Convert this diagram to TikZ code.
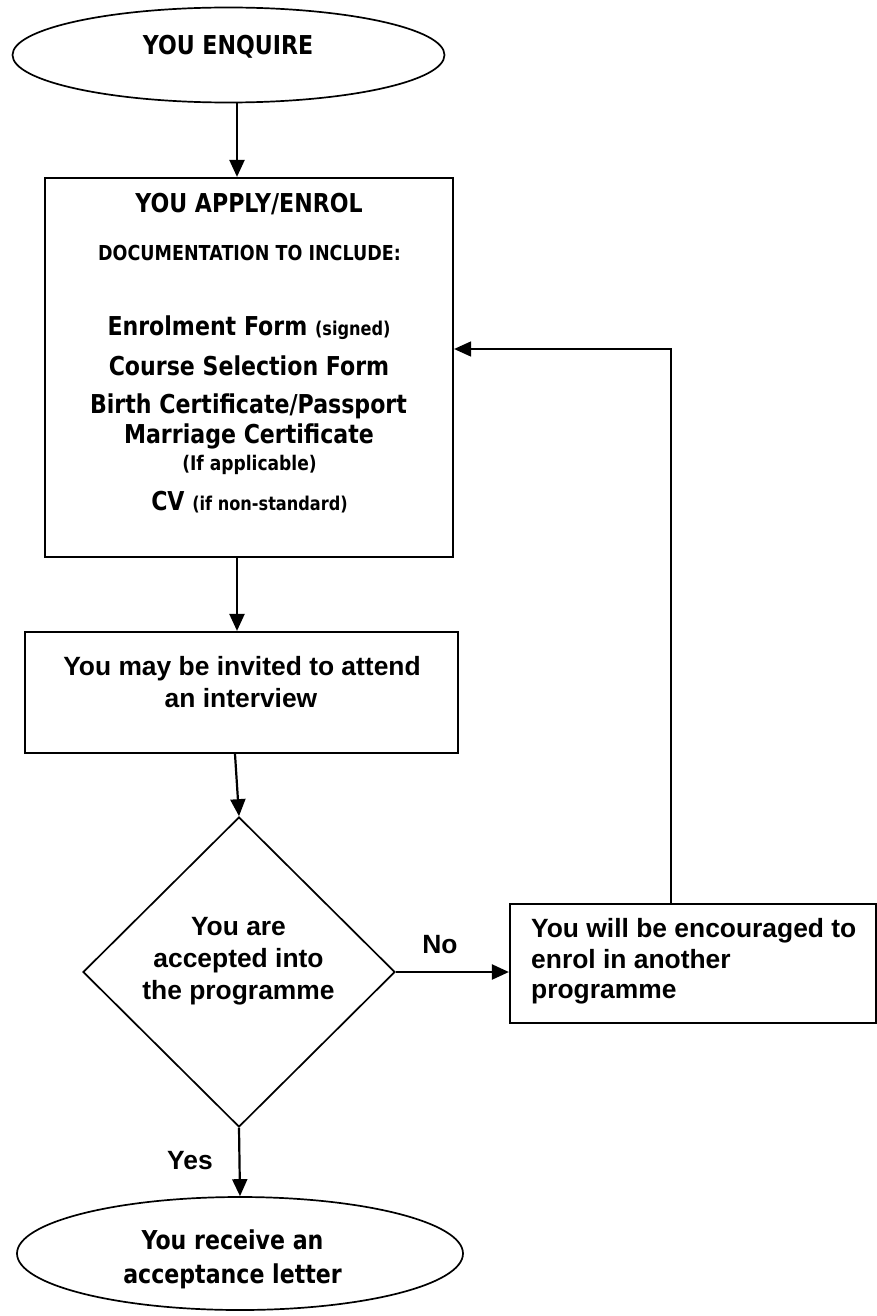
\documentclass[tikz,border=0pt]{standalone}
\usepackage{fontspec}
\usetikzlibrary{arrows.meta,shapes.geometric}
\newfontfamily\tah{DejaVu Sans}[FakeStretch=0.85]
\newfontfamily\arl{Liberation Sans}
\newcommand{\smalltah}{\fontsize{19}{21}\selectfont}
\begin{document}
\begin{tikzpicture}[x=1pt,y=-1pt,
  outline/.style={draw, line width=2.2pt, inner sep=0pt},
  thinout/.style={draw, line width=1.7pt, inner sep=0pt},
  arr/.style={line width=2.2pt, -{Triangle[length=17pt,width=15pt]}},
  big/.style={font=\tah\bfseries\fontsize{26}{30}\selectfont, anchor=base, inner sep=0pt},
  mid/.style={font=\tah\bfseries\fontsize{20.6}{23}\selectfont, anchor=base, inner sep=0pt},
  ar/.style={font=\arl\bfseries\fontsize{26.4}{30}\selectfont, anchor=base, inner sep=0pt},
  arw/.style={ar, anchor=base west}]
\useasboundingbox (0,0) rectangle (877,1316);

% shapes
\node[thinout, ellipse, minimum width=432pt, minimum height=95pt] (enq) at (228.5,55) {};
\node[outline, minimum width=408pt, minimum height=379pt] (apply) at (249,367.5) {};
\node[outline, minimum width=433pt, minimum height=121pt] (inter) at (241.5,692.5) {};
\node[thinout, diamond, minimum width=312pt, minimum height=310pt] (dec) at (239,972) {};
\node[outline, minimum width=366pt, minimum height=119pt] (fb) at (693,963.5) {};
\node[thinout, ellipse, minimum width=446pt, minimum height=113pt] (acc) at (240,1253.5) {};

% texts
\node[big] (t1) at (228,55) {YOU ENQUIRE};
\node[big] (t2) at (249,212) {YOU APPLY/ENROL};
\node[mid] (t3) at (249.5,260) {DOCUMENTATION TO INCLUDE:};
\node[big] (t4) at (249,335) {Enrolment Form {\smalltah(signed)}};
\node[big] (t5) at (249,375) {Course Selection Form};
\node[big] (t6) at (248.5,413) {Birth Certificate/Passport};
\node[big] (t7) at (249,443) {Marriage Certificate};
\node[mid, font=\tah\bfseries\fontsize{20.1}{23}\selectfont] (t8) at (249.5,470) {(If applicable)};
\node[big] (t9) at (249.5,510) {CV {\smalltah(if non-standard)}};

\node[ar] (i1) at (242,675) {You may be invited to attend};
\node[ar] (i2) at (241,707) {an interview};

\node[ar] (d1) at (238.5,935) {You are};
\node[ar] (d2) at (238.5,967) {accepted into};
\node[ar] (d3) at (238.5,999) {the programme};

\node[arw] (f1) at (531,937) {You will be encouraged to};
\node[arw] (f2) at (531,968) {enrol in another};
\node[arw] (f3) at (531,998) {programme};

\node[big] (r1) at (232.5,1249) {You receive an};
\node[big] (r2) at (232.5,1283) {acceptance letter};

\node[ar] (no) at (440,953) {No};
\node[ar] (yes) at (190,1169) {Yes};

% connectors
\coordinate (bend) at (671,349);
\draw[arr] (237,0 |- enq.south) -- (237,0 |- apply.north);
\draw[arr] (237,0 |- apply.south) -- (237,0 |- inter.north);
\draw[arr] (235,0 |- inter.south) -- (dec.north);
\draw[arr] (dec.east) -- (fb.west |- dec.east);
\draw[arr] (dec.south) -- (acc.north);
\draw[arr, line width=1.7pt] (fb.north -| bend) -- (bend) -- (apply.east |- bend);
\end{tikzpicture}
\end{document}
